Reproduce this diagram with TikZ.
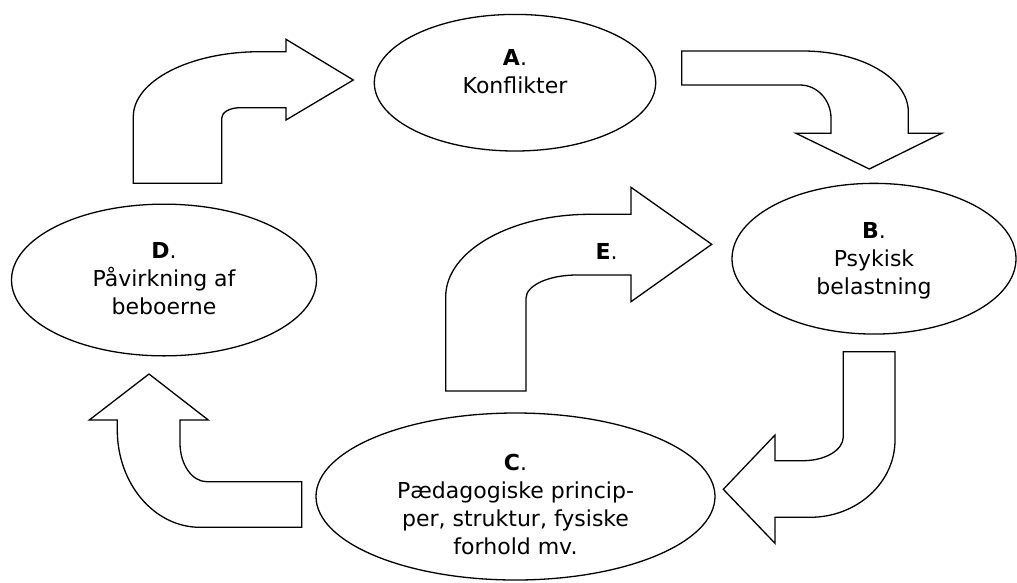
\documentclass[tikz,border=0pt]{standalone}
\usepackage{fontspec}
\setmainfont{DejaVu Sans}
\usetikzlibrary{shapes.geometric}
\tikzset{
  ell/.style={draw=black, line width=1.3pt, ellipse, inner sep=0pt, fill=white},
  txt/.style={anchor=north, align=center, inner sep=0pt, font=\fontsize{22}{28}\selectfont},
  bentarrow/.style={draw=black, line width=1.3pt, fill=white, line join=miter}
}
\begin{document}
\begin{tikzpicture}[x=1pt,y=-1pt]
\useasboundingbox (0,0) rectangle (1017,582);

% ellipses
\node[ell, minimum width=281.4pt, minimum height=136.6pt] (A) at (515,82.7) {};
\node[ell, minimum width=284pt, minimum height=150.7pt] (B) at (874,258.7) {};
\node[ell, minimum width=399pt, minimum height=167pt] (C) at (515.5,496.5) {};
\node[ell, minimum width=305pt, minimum height=151.7pt] (D) at (164,280) {};

% texts
\node[txt] (At) at (515,49.3) {\textbf{A}.\\Konflikter};
\node[txt] (Bt) at (874,222) {\textbf{B}.\\Psykisk\\belastning};
\node[txt] (Ct) at (515.5,453.7) {\textbf{C}.\\Pædagogiske princip-\\per, struktur, fysiske\\forhold mv.};
\node[txt] (Dt) at (164,242) {\textbf{D}.\\Påvirkning af\\beboerne};

% arrow D -> A
\draw[bentarrow] (133.3,183.3) -- (133.3,116.7)
  .. controls (133.3,80.8) and (190,51.7) .. (260,51.7)
  -- (286,51.7) -- (286,39.3) -- (353.3,80) -- (286,120) -- (286,107.7)
  -- (240,107.7) .. controls (229.9,107.7) and (221.7,112.3) .. (221.7,118)
  -- (221.7,183.3) -- cycle;

% arrow A -> B
\draw[bentarrow] (681.7,51) -- (803,51)
  .. controls (861.2,51) and (908.3,78.2) .. (908.3,111.7)
  -- (908.3,133.3) -- (941.7,133.3) -- (869.3,169) -- (796,133.3) -- (831,133.3)
  -- (831,118.3) .. controls (831,99.9) and (817.1,85) .. (800,85)
  -- (681.7,85) -- cycle;

% arrow E
\draw[bentarrow] (445.7,391) -- (445.7,296.7)
  .. controls (445.7,251.2) and (510.3,214.3) .. (590,214.3)
  -- (631,214.3) -- (631,187.3) -- (711.7,244.3) -- (631,301.7) -- (631,275)
  -- (576.7,275) .. controls (548.7,275) and (526,285.4) .. (526,298.3)
  -- (526,391) -- cycle;
\node[inner sep=0pt, anchor=north, font=\fontsize{22}{28}\selectfont] (Et) at (606.7,243) {\textbf{E}.};

% arrow B -> C
\draw[bentarrow] (843.3,351.7) -- (895,351.7) -- (895,440)
  .. controls (895,482.7) and (857,517.3) .. (810,517.3)
  -- (775,517.3) -- (775,543.3) -- (723.3,489.3) -- (775,435) -- (775,460.7)
  -- (803,460.7) .. controls (825.3,460.7) and (843.3,450) .. (843.3,436.7)
  -- cycle;

% arrow C -> D
\draw[bentarrow] (149,374) -- (208.3,420) -- (180,420) -- (180,443)
  .. controls (180,464.4) and (192,481.7) .. (206.7,481.7)
  -- (301.7,481.7) -- (301.7,527.3) -- (200,527.3)
  .. controls (154.3,527.3) and (117.3,483.7) .. (117.3,430)
  -- (117.3,420) -- (89.3,420) -- cycle;
\end{tikzpicture}
\end{document}
